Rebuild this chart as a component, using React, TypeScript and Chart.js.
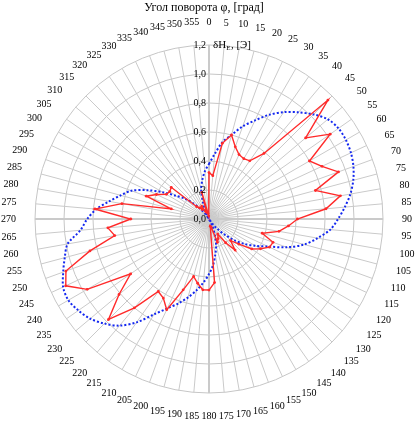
import { useEffect, useRef } from 'react';
import { Chart, registerables } from 'chart.js';

Chart.register(...registerables);

// Angle of rotation φ, degrees (categories)
const angleLabels = [
  '0', '5', '10', '15', '20', '25', '30', '35', '40', '45', '50', '55',
  '60', '65', '70', '75', '80', '85', '90', '95', '100', '105', '110', '115',
  '120', '125', '130', '135', '140', '145', '150', '155', '160', '165', '170', '175',
  '180', '185', '190', '195', '200', '205', '210', '215', '220', '225', '230', '235',
  '240', '245', '250', '255', '260', '265', '270', '275', '280', '285', '290', '295',
  '300', '305', '310', '315', '320', '325', '330', '335', '340', '345', '350', '355',
];

// Measured δH_E, [Э] (red)
const deltaH = [
  0.32, 0.30, 0.53, 0.60, 0.53, 0.49, 0.48, 0.49, 0.59, 1.16, 0.87, 1.02,
  0.80, 0.86, 0.95, 0.76, 0.92, 0.81, 0.61, 0.55, 0.49, 0.38, 0.47, 0.46,
  0.41, 0.36, 0.27, 0.21, 0.28, 0.20, 0.12, 0.15, 0.17, 0.06, 0.05, 0.44,
  0.49, 0.49, 0.45, 0.41, 0.52, 0.69, 0.63, 0.61, 0.80, 0.98, 0.81, 0.66,
  0.97, 1.09, 1.05, 0.85, 0.66, 0.70, 0.54, 0.79, 0.61, 0.27, 0.46, 0.40,
  0.34, 0.33, 0.34, 0.12, 0.10, 0.08, 0.10, 0.06, 0.05, 0.19, 0.04, 0.02,
];

// Envelope (blue dotted, two lobes)
const envelope = [
  0.38, 0.45, 0.54, 0.60, 0.68, 0.75, 0.83, 0.90, 0.96, 1.02, 1.07, 1.09,
  1.09, 1.08, 1.06, 1.03, 0.99, 0.94, 0.89, 0.84, 0.76, 0.68, 0.57, 0.45,
  0.37, 0.30, 0.23, 0.15, 0.09, 0.04, 0.00, 0.06, 0.12, 0.19, 0.25, 0.32,
  0.38, 0.44, 0.50, 0.56, 0.62, 0.68, 0.76, 0.87, 0.96, 1.02, 1.07, 1.10,
  1.12, 1.11, 1.07, 1.03, 0.99, 0.89, 0.84, 0.78, 0.70, 0.63, 0.57, 0.47,
  0.37, 0.28, 0.22, 0.15, 0.09, 0.04, 0.00, 0.07, 0.12, 0.21, 0.27, 0.33,
];

const radialTicks = [0, 0.2, 0.4, 0.6, 0.8, 1.0, 1.2];
const titleText = 'Угол поворота φ, [град]';
const axisMain = 'δH';
const axisSub = 'E';
const axisTail = ', [Э]';

const FONT = '"Liberation Serif", "Times New Roman", serif';

export default function App() {
  const canvasRef = useRef<HTMLCanvasElement>(null);

  useEffect(() => {
    if (!canvasRef.current) return;

    const textPlugin = {
      id: 'polarText',
      afterDraw(chart: any) {
        const s = chart.scales.r;
        const ctx: CanvasRenderingContext2D = chart.ctx;
        ctx.save();
        ctx.fillStyle = '#000';

        // angle labels
        ctx.font = `10px ${FONT}`;
        ctx.textAlign = 'center';
        ctx.textBaseline = 'middle';
        const R = s.drawingArea + 19;
        const h = 8;
        angleLabels.forEach((lab, i) => {
          const a = s.getIndexAngle(i);
          const w = ctx.measureText(lab).width;
          const d = R + (w / 2) * Math.abs(Math.sin(a)) + (h / 2) * Math.abs(Math.cos(a));
          const p = s.getPointPosition(i, d);
          ctx.fillText(lab, p.x, p.y + 0.5);
        });

        // radial tick labels
        ctx.font = `10px ${FONT}`;
        ctx.textAlign = 'right';
        radialTicks.forEach((v) => {
          const y = s.yCenter - s.getDistanceFromCenterForValue(v);
          ctx.fillText(v.toFixed(1).replace('.', ','), s.xCenter - 3, y + 0.5);
        });

        // radial axis name
        const topY = s.yCenter - s.getDistanceFromCenterForValue(1.2) + 0.5;
        let x = s.xCenter + 4;
        ctx.textAlign = 'left';
        ctx.font = `11px ${FONT}`;
        ctx.fillText(axisMain, x, topY);
        x += ctx.measureText(axisMain).width;
        ctx.font = `7px ${FONT}`;
        ctx.fillText(axisSub, x, topY + 3);
        x += ctx.measureText(axisSub).width + 0.5;
        ctx.font = `11px ${FONT}`;
        ctx.fillText(axisTail, x, topY);

        // title
        ctx.font = `12px ${FONT}`;
        ctx.textAlign = 'center';
        ctx.fillText(titleText, 204, 7.5);
        ctx.restore();
      },
    };

    const chart = new Chart(canvasRef.current, {
      type: 'radar',
      data: {
        labels: angleLabels,
        datasets: [
          {
            label: 'δH',
            data: deltaH,
            borderColor: '#ff2a2a',
            backgroundColor: '#ff2a2a',
            borderWidth: 1.4,
            pointRadius: 1.4,
            pointBorderWidth: 0,
            pointBackgroundColor: '#ff2a2a',
            fill: false,
            tension: 0,
          },
          {
            label: 'envelope',
            data: envelope,
            borderColor: '#1428f0',
            borderWidth: 2,
            borderDash: [2, 2],
            pointRadius: 0,
            fill: false,
            tension: 0.3,
          },
        ],
      },
      options: {
        animation: false,
        responsive: true,
        maintainAspectRatio: false,
        layout: { padding: { left: 35, right: 37, top: 45, bottom: 33 } },
        plugins: {
          legend: { display: false },
          title: { display: false },
          tooltip: { enabled: false },
        },
        scales: {
          r: {
            min: 0,
            max: 1.2,
            startAngle: 0,
            ticks: { display: false, stepSize: 0.2 },
            grid: { circular: true, color: '#c6c6c6', lineWidth: 1 },
            angleLines: {
              display: true,
              color: '#cacaca',
              lineWidth: (c: any) => (c.index % 18 === 0 ? 2 : 1),
            },
            pointLabels: { display: false },
          },
        },
      },
      plugins: [textPlugin],
    } as any);

    return () => chart.destroy();
  }, []);

  return (
    <div style={{ position: 'absolute', left: 0, top: 0, width: 420, height: 426, background: '#fff' }}>
      <canvas ref={canvasRef} />
    </div>
  );
}
